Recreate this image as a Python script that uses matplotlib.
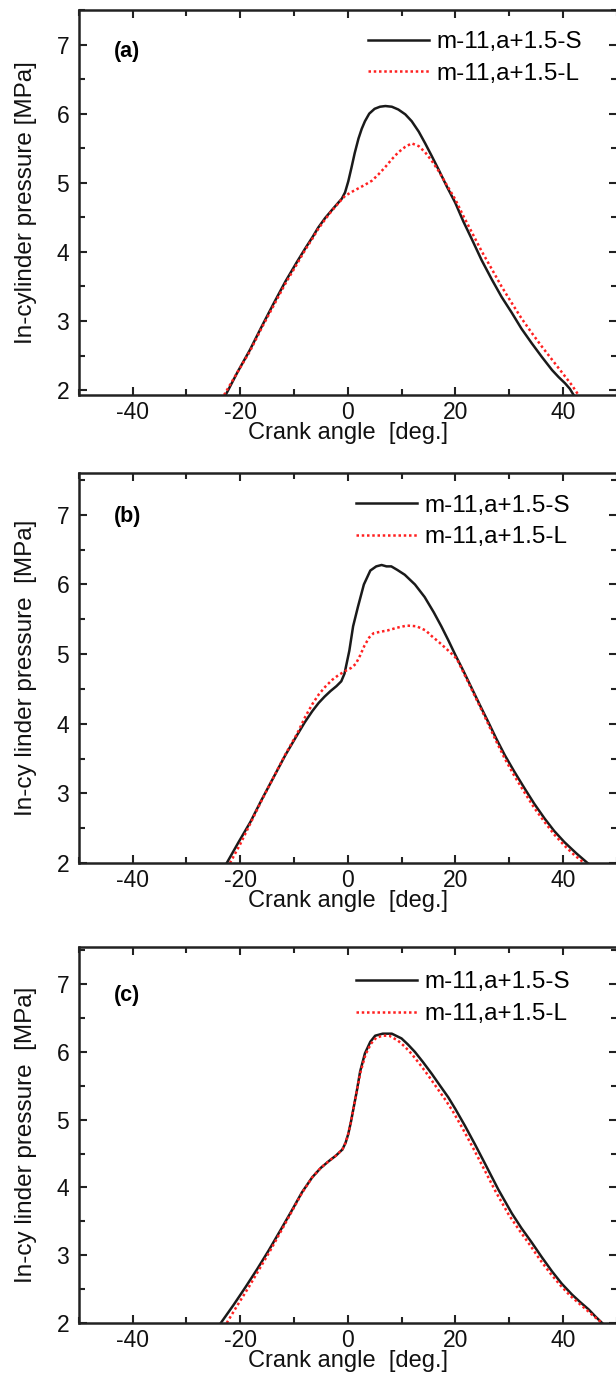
import numpy as np
import matplotlib
matplotlib.use("Agg")
import matplotlib.pyplot as plt
from matplotlib.ticker import MultipleLocator

plt.rcParams['font.family'] = ['Liberation Sans', 'DejaVu Sans']
plt.rcParams['axes.unicode_minus'] = False

# legend names
label_s = "m-11,a+1.5-S"
label_l = "m-11,a+1.5-L"

# panel (a)
xa_s = [-22.7, -20.5, -18.2, -16, -13.8, -11.6, -9.4, -7.9, -6.5, -5.5, -4.2, -3.0, -2.0, -1.1, -0.5,
        0.1, 0.7, 1.3, 2.0, 2.6, 3.2, 4.0, 5.0, 6.0, 7.0, 8.2, 9.4, 10.7, 11.9, 13.2, 14.4, 15.6, 16.9,
        18.4, 20.0, 21.5, 23.1, 24.9, 26.8, 28.6, 30.5, 32.3, 34.2, 36.1, 38.0, 39.2, 40.4, 41.3, 42.0]
ya_s = [1.93, 2.26, 2.58, 2.92, 3.25, 3.57, 3.86, 4.05, 4.22, 4.35, 4.49, 4.60, 4.69, 4.77, 4.86,
        5.02, 5.22, 5.43, 5.64, 5.78, 5.89, 6.00, 6.07, 6.10, 6.11, 6.10, 6.06, 5.99, 5.89, 5.74, 5.57, 5.39, 5.19,
        4.95, 4.71, 4.44, 4.18, 3.88, 3.60, 3.35, 3.12, 2.89, 2.68, 2.48, 2.29, 2.19, 2.10, 2.02, 1.93]
xa_l = [-23.0, -20.5, -18.2, -16, -13.8, -11.6, -9.4, -7.9, -6.5, -5.5, -4.2, -3.0, -2.0, -1.1, -0.5,
        0.8, 2.0, 3.2, 4.5, 5.7, 6.9, 8.2, 9.4, 10.7, 11.9, 13.2, 14.4, 15.6, 16.9, 18.4, 20.0, 21.5,
        23.1, 24.9, 26.8, 28.6, 30.5, 32.3, 34.2, 36.1, 38.0, 39.2, 40.4, 41.7, 42.9]
ya_l = [1.93, 2.26, 2.56, 2.90, 3.22, 3.54, 3.83, 4.03, 4.20, 4.33, 4.47, 4.59, 4.68, 4.76, 4.81,
        4.87, 4.92, 4.97, 5.03, 5.12, 5.22, 5.34, 5.44, 5.52, 5.57, 5.53, 5.44, 5.32, 5.17, 4.97, 4.76, 4.52,
        4.28, 4.01, 3.75, 3.50, 3.26, 3.04, 2.83, 2.63, 2.44, 2.32, 2.20, 2.07, 1.93]

# panel (b)
xb_s = [-22.5, -20.3, -18.1, -16, -13.8, -11.6, -9.4, -8.0, -6.6, -5.4, -4.3, -3.2, -2.1, -1.2, -0.6,
        0.3, 1.0, 1.9, 3.0, 4.2, 5.3, 6.3, 7.2, 8.1, 9.2, 10.6, 12.5, 14.3, 16.0, 17.4, 18.7, 20.0,
        21.5, 23.0, 24.5, 26.1, 27.6, 29.2, 31.0, 32.9, 34.7, 36.6, 38.4, 40.3, 42.5, 44.6]
yb_s = [2.0, 2.30, 2.59, 2.91, 3.23, 3.55, 3.84, 4.02, 4.18, 4.30, 4.39, 4.47, 4.54, 4.61, 4.72,
        5.05, 5.40, 5.68, 6.00, 6.20, 6.26, 6.28, 6.26, 6.26, 6.21, 6.14, 6.00, 5.82, 5.60, 5.40, 5.20, 4.99,
        4.76, 4.52, 4.28, 4.03, 3.79, 3.55, 3.31, 3.07, 2.85, 2.64, 2.46, 2.30, 2.14, 2.0]
xb_l = [-21.9, -20.0, -18.1, -16, -13.8, -11.6, -9.4, -7.9, -6.6, -5.4, -4.2, -2.9, -1.7, -0.4, 0.6,
        1.5, 2.3, 3.1, 4.0, 4.8, 6.0, 7.4, 9.2, 11.0, 12.8, 14.5, 15.6, 17.0, 18.0, 19.0, 20.3, 21.5,
        23.0, 24.5, 26.1, 27.6, 29.2, 31.0, 32.9, 34.7, 36.6, 38.4, 40.3, 42.2, 44.0]
yb_l = [2.0, 2.27, 2.57, 2.90, 3.23, 3.56, 3.86, 4.10, 4.28, 4.42, 4.53, 4.63, 4.70, 4.76, 4.80,
        4.86, 4.98, 5.12, 5.24, 5.30, 5.32, 5.34, 5.38, 5.41, 5.40, 5.34, 5.26, 5.17, 5.10, 5.03, 4.93, 4.74,
        4.50, 4.26, 4.00, 3.75, 3.50, 3.25, 3.01, 2.79, 2.59, 2.41, 2.25, 2.11, 2.0]

# panel (c)
xc_s = [-23.6, -21.2, -19.0, -16.8, -14.7, -12.5, -10.4, -8.5, -6.6, -5.0, -3.5, -2.2, -1.0, -0.4, 0.1,
        0.6, 1.1, 1.7, 2.3, 3.2, 4.2, 5.1, 6.5, 8.2, 10.0, 11.2, 12.5, 14.0, 15.6, 17.1, 18.7, 20.0,
        21.8, 23.7, 25.6, 28.0, 30.5, 32.3, 34.2, 36.1, 38.0, 39.8, 41.7, 43.2, 44.8, 46.0, 47.3]
yc_s = [2.0, 2.27, 2.53, 2.80, 3.07, 3.37, 3.66, 3.93, 4.15, 4.29, 4.39, 4.47, 4.56, 4.66, 4.79,
        4.97, 5.18, 5.43, 5.71, 5.98, 6.15, 6.24, 6.27, 6.27, 6.20, 6.11, 6.00, 5.85, 5.68, 5.51, 5.33, 5.16,
        4.91, 4.63, 4.34, 3.97, 3.62, 3.40, 3.19, 2.97, 2.76, 2.58, 2.42, 2.31, 2.20, 2.10, 2.0]
xc_l = [-22.5, -20.6, -18.4, -16.4, -14.4, -12.3, -10.3, -8.5, -6.6, -5.0, -3.5, -2.2, -1.0, -0.4, 0.1,
        0.6, 1.1, 1.7, 2.4, 3.3, 4.3, 5.3, 6.5, 7.7, 9.3, 10.6, 11.9, 13.4, 15.0, 16.5, 18.1, 19.5,
        21.3, 23.2, 25.1, 27.5, 30.0, 31.9, 33.8, 35.7, 37.6, 39.5, 41.4, 43.0, 44.6, 45.9, 47.3]
yc_l = [2.0, 2.25, 2.53, 2.80, 3.07, 3.37, 3.66, 3.92, 4.15, 4.29, 4.39, 4.47, 4.56, 4.66, 4.79,
        4.97, 5.18, 5.43, 5.71, 5.96, 6.12, 6.21, 6.24, 6.24, 6.17, 6.08, 5.97, 5.82, 5.65, 5.48, 5.30, 5.13,
        4.88, 4.60, 4.31, 3.94, 3.59, 3.37, 3.16, 2.94, 2.74, 2.56, 2.40, 2.29, 2.18, 2.09, 2.0]

panel_names = ["(a)", "(b)", "(c)"]
ylabels = ["In-cylinder pressure [MPa]", "In-cy linder pressure  [MPa]", "In-cy linder pressure  [MPa]"]
xlabel = "Crank angle  [deg.]"
ylims = [(1.93, 7.5), (2.0, 7.6), (2.0, 7.55)]

fig = plt.figure(figsize=(6.16, 13.82), dpi=100)
boxes = [[0.128, 0.7142, 0.873, 0.2786],
         [0.128, 0.3755, 0.873, 0.2822],
         [0.128, 0.0427, 0.873, 0.2721]]
leg_anchor = [(0.935, 0.945), (0.913, 0.945), (0.913, 0.935)]
name_y = [0.891, 0.888, 0.872]

data = [(xa_s, ya_s, xa_l, ya_l), (xb_s, yb_s, xb_l, yb_l), (xc_s, yc_s, xc_l, yc_l)]

for i, (xs, ys, xl, yl) in enumerate(data):
    ax = fig.add_axes(boxes[i])
    ax.plot(xs, ys, color='#1a1a1a', lw=1.8, label=label_s)
    ax.plot(xl, yl, color='#ff2020', lw=1.8, ls=(0, (1, 1.1)), label=label_l)
    ax.set_xlim(-50, 50)
    ax.set_ylim(*ylims[i])
    ax.set_xticks([-40, -20, 0, 20, 40])
    ax.xaxis.set_minor_locator(MultipleLocator(10))
    ax.set_yticks([2, 3, 4, 5, 6, 7])
    ax.yaxis.set_minor_locator(MultipleLocator(0.5))
    ax.tick_params(which='both', direction='in', top=True, right=True, width=1.5, colors='#222222')
    ax.tick_params(which='major', length=6, labelsize=16.5, labelcolor='#111111', pad=4)
    ax.tick_params(which='minor', length=4)
    ax.tick_params(axis='y', which='major', pad=7)
    for sp in ax.spines.values():
        sp.set_linewidth(1.8)
        sp.set_color('#222222')
    ax.set_xlabel(xlabel, fontsize=17, labelpad=-1, color='#111111')
    ax.set_ylabel(ylabels[i], fontsize=17.5, color='#111111')
    ax.yaxis.set_label_coords(-0.078, 0.5)
    ax.text(0.065, name_y[i], panel_names[i], transform=ax.transAxes, fontsize=15.5,
            fontweight='bold', ha='left', va='center')
    ax.legend(loc='upper right', bbox_to_anchor=leg_anchor[i], frameon=False, fontsize=17.5,
              handlelength=2.5, handletextpad=0.3, labelspacing=0.4, borderpad=0, borderaxespad=0)

fig.savefig("out.png", dpi=100)
